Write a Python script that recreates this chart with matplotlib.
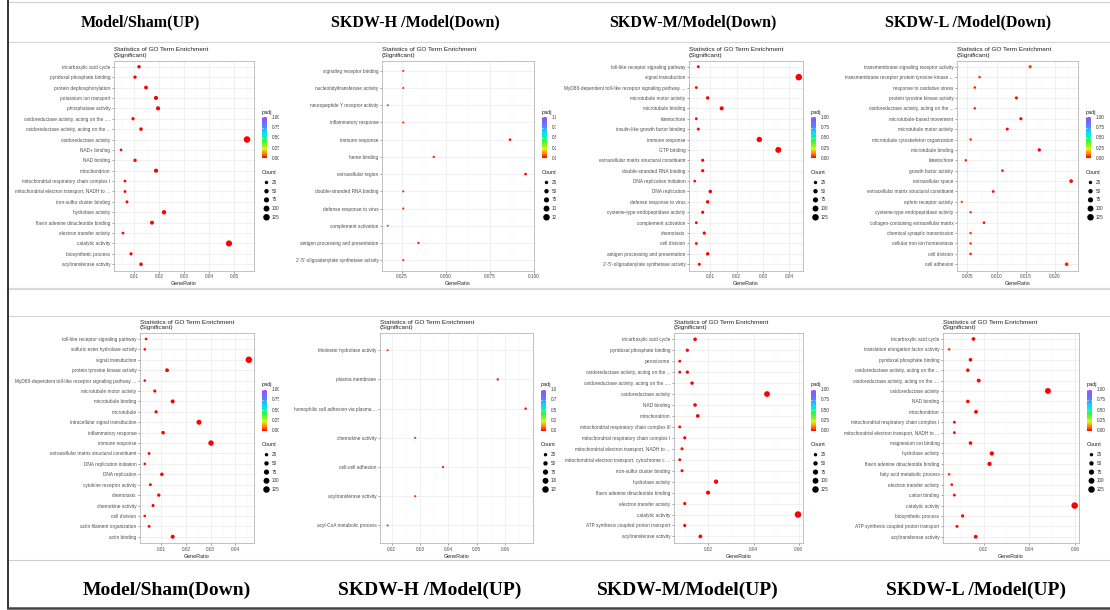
import matplotlib.pyplot as plt
import numpy as np
from matplotlib.colors import LinearSegmentedColormap

plt.rcParams['font.family'] = ['Liberation Sans', 'DejaVu Sans']

W, H = 1110, 610

# group titles
top_titles = ["Model/Sham(UP)", "SKDW-H /Model(Down)", "SKDW-M/Model(Down)", "SKDW-L /Model(Down)"]
bottom_titles = ["Model/Sham(Down)", "SKDW-H /Model(UP)", "SKDW-M/Model(UP)", "SKDW-L /Model(UP)"]

count_breaks = [25, 50, 75, 100, 125]
padj_breaks = ["1.00", "0.75", "0.50", "0.25", "0.00"]

# Model/Sham(UP)
A_terms = ["tricarboxylic acid cycle", "pyridoxal phosphate binding", "protein dephosphorylation",
           "potassium ion transport", "phosphatase activity", "oxidoreductase activity, acting on the ....",
           "oxidoreductase activity, acting on the ...", "oxidoreductase activity", "NAD+ binding",
           "NAD binding", "mitochondrion", "mitochondrial respiratory chain complex I",
           "mitochondrial electron transport, NADH to ...", "iron-sulfur cluster binding",
           "hydrolase activity", "flavin adenine dinucleotide binding", "electron transfer activity",
           "catalytic activity", "biosynthetic process", "acyltransferase activity"]
A_ratio = [0.0120, 0.0104, 0.0148, 0.0188, 0.0196, 0.0096, 0.0128, 0.0552, 0.0048, 0.0104,
           0.0188, 0.0064, 0.0064, 0.0072, 0.0220, 0.0172, 0.0056, 0.0480, 0.0088, 0.0128]
A_count = [27, 24, 34, 43, 44, 22, 29, 125, 11, 24, 43, 14, 14, 16, 50, 39, 13, 109, 20, 29]
A_padj = [0.001, 0.002, 0.001, 0.001, 0.0, 0.003, 0.002, 0.0, 0.008, 0.002,
          0.0, 0.004, 0.004, 0.003, 0.0, 0.001, 0.006, 0.0, 0.003, 0.002]

# SKDW-H /Model(Down)
B_terms = ["signaling receptor binding", "nucleotidyltransferase activity", "neuropeptide Y receptor activity",
           "inflammatory response", "immune response", "heme binding", "extracellular region",
           "double-stranded RNA binding", "defense response to virus", "complement activation",
           "antigen processing and presentation", "2'-5'-oligoadenylate synthetase activity"]
B_ratio = [0.0257, 0.0257, 0.0169, 0.0257, 0.0865, 0.0431, 0.0954, 0.0257, 0.0257, 0.0169, 0.0343, 0.0257]
B_count = [3, 3, 2, 3, 10, 5, 11, 3, 3, 2, 4, 3]
B_padj = [0.045, 0.045, 0.06, 0.045, 0.004, 0.03, 0.002, 0.04, 0.04, 0.06, 0.02, 0.04]

# SKDW-M/Model(Down)
C_terms = ["toll-like receptor signaling pathway", "signal transduction",
           "MyD88-dependent toll-like receptor signaling pathway ...", "microtubule motor activity",
           "microtubule binding", "kinetochore", "insulin-like growth factor binding", "immune response",
           "GTP binding", "extracellular matrix structural constituent", "double-stranded RNA binding",
           "DNA replication initiation", "DNA replication", "defense response to virus",
           "cysteine-type endopeptidase activity", "complement activation", "chemotaxis", "cell division",
           "antigen processing and presentation", "2'-5'-oligoadenylate synthetase activity"]
C_ratio = [0.00534, 0.0437, 0.00458, 0.00893, 0.01427, 0.00458, 0.00534, 0.02863, 0.03588, 0.00702,
           0.00702, 0.00397, 0.00992, 0.00893, 0.00702, 0.00458, 0.00763, 0.00458, 0.00893, 0.00573]
C_count = [15, 125, 13, 26, 41, 13, 15, 82, 103, 20, 20, 11, 28, 26, 20, 13, 22, 13, 26, 16]
C_padj = [0.004, 0.0, 0.005, 0.002, 0.001, 0.005, 0.004, 0.0, 0.0, 0.003,
          0.003, 0.006, 0.002, 0.002, 0.003, 0.005, 0.003, 0.005, 0.002, 0.004]

# SKDW-L /Model(Down)
D_terms = ["transmembrane signaling receptor activity", "transmembrane receptor protein tyrosine kinase ...",
           "response to oxidative stress", "protein tyrosine kinase activity",
           "oxidoreductase activity, acting on the ...", "microtubule-based movement",
           "microtubule motor activity", "microtubule cytoskeleton organization", "microtubule binding",
           "kinetochore", "growth factor activity", "extracellular space",
           "extracellular matrix structural constituent", "ephrin receptor activity",
           "cysteine-type endopeptidase activity", "collagen-containing extracellular matrix",
           "chemical synaptic transmission", "cellular iron ion homeostasis", "cell division", "cell adhesion"]
D_ratio = [0.01577, 0.00708, 0.00626, 0.01341, 0.00626, 0.01418, 0.01184, 0.00554, 0.01734, 0.00472,
           0.01102, 0.02282, 0.00943, 0.00402, 0.00554, 0.00784, 0.00554, 0.00554, 0.00554, 0.02205]
D_count = [22, 10, 9, 19, 9, 20, 17, 8, 24, 7, 15, 32, 13, 6, 8, 11, 8, 8, 8, 31]
D_padj = [0.05, 0.05, 0.025, 0.01, 0.03, 0.005, 0.005, 0.05, 0.003, 0.02,
          0.045, 0.005, 0.01, 0.06, 0.045, 0.015, 0.05, 0.05, 0.02, 0.03]

# Model/Sham(Down)
E_terms = ["toll-like receptor signaling pathway", "sulfuric ester hydrolase activity", "signal transduction",
           "protein tyrosine kinase activity", "MyD88-dependent toll-like receptor signaling pathway ...",
           "microtubule motor activity", "microtubule binding", "microtubule",
           "intracellular signal transduction", "inflammatory response", "immune response",
           "extracellular matrix structural constituent", "DNA replication initiation", "DNA replication",
           "cytokine receptor activity", "chemotaxis", "chemokine activity", "cell division",
           "actin filament organization", "actin binding"]
E_ratio = [0.00377, 0.00324, 0.0456, 0.0123, 0.00324, 0.00731, 0.0146, 0.00784, 0.0253, 0.0107,
           0.0302, 0.0050, 0.00324, 0.0102, 0.00552, 0.00894, 0.00662, 0.00324, 0.0050, 0.0146]
E_count = [10, 9, 125, 34, 9, 20, 40, 21, 69, 29, 83, 14, 9, 28, 15, 24, 18, 9, 14, 40]
E_padj = [0.004, 0.006, 0.0, 0.001, 0.006, 0.002, 0.001, 0.002, 0.0, 0.001,
          0.0, 0.003, 0.006, 0.001, 0.003, 0.002, 0.002, 0.006, 0.003, 0.001]

# SKDW-H /Model(UP)
F_terms = ["thiolester hydrolase activity", "plasma membrane", "homophilic cell adhesion via plasma ...",
           "chemokine activity", "cell-cell adhesion", "acyltransferase activity", "acyl-CoA metabolic process"]
F_ratio = [0.0186, 0.0574, 0.0672, 0.0283, 0.0381, 0.0283, 0.0186]
F_count = [2, 6, 7, 3, 4, 3, 2]
F_padj = [0.05, 0.02, 0.01, 0.045, 0.02, 0.045, 0.05]

# SKDW-M/Model(UP)  (two terms share the truncated label on row 4)
G_terms = ["tricarboxylic acid cycle", "pyridoxal phosphate binding", "peroxisome",
           "oxidoreductase activity, acting on the ...", "oxidoreductase activity, acting on the ....",
           "oxidoreductase activity", "NAD binding", "mitochondrion",
           "mitochondrial respiratory chain complex III", "mitochondrial respiratory chain complex I",
           "mitochondrial electron transport, NADH to ...", "mitochondrial electron transport, cytochrome c ...",
           "iron-sulfur cluster binding", "hydrolase activity", "flavin adenine dinucleotide binding",
           "electron transfer activity", "catalytic activity", "ATP synthesis coupled proton transport",
           "acyltransferase activity"]
G_rows = [0, 1, 2, 3, 3, 4, 5, 6, 7, 8, 9, 10, 11, 12, 13, 14, 15, 16, 17, 18]
G_ratio = [0.01412, 0.01071, 0.00735, 0.00735, 0.01071, 0.01279, 0.04597, 0.01412, 0.01531, 0.00735,
           0.00956, 0.00836, 0.00735, 0.00836, 0.02341, 0.01987, 0.00956, 0.05969, 0.00956, 0.01646]
G_count = [30, 22, 15, 15, 22, 27, 96, 30, 32, 15, 20, 18, 15, 18, 49, 42, 20, 125, 20, 34]
G_padj = [0.001, 0.002, 0.005, 0.005, 0.002, 0.002, 0.0, 0.001, 0.001, 0.005,
          0.003, 0.004, 0.005, 0.004, 0.0, 0.0, 0.003, 0.0, 0.003, 0.001]

# SKDW-L /Model(UP)
H_terms = ["tricarboxylic acid cycle", "translation elongation factor activity", "pyridoxal phosphate binding",
           "oxidoreductase activity, acting on the ...", "oxidoreductase activity, acting on the ....",
           "oxidoreductase activity", "NAD binding", "mitochondrion",
           "mitochondrial respiratory chain complex I", "mitochondrial electron transport, NADH to ...",
           "magnesium ion binding", "hydrolase activity", "flavin adenine dinucleotide binding",
           "fatty acid metabolic process", "electron transfer activity", "cation binding",
           "catalytic activity", "biosynthetic process", "ATP synthesis coupled proton transport",
           "acyltransferase activity"]
H_ratio = [0.01555, 0.00488, 0.01425, 0.01309, 0.01784, 0.0482, 0.01309, 0.01667, 0.00717, 0.00717,
           0.01425, 0.02359, 0.02259, 0.00488, 0.00605, 0.00717, 0.0599, 0.0108, 0.00834, 0.01654]
H_count = [32, 10, 30, 27, 37, 101, 27, 35, 15, 15, 30, 49, 47, 10, 13, 15, 125, 23, 17, 35]
H_padj = [0.002, 0.05, 0.003, 0.003, 0.001, 0.0, 0.003, 0.001, 0.01, 0.01,
          0.004, 0.0, 0.0, 0.05, 0.02, 0.01, 0.0, 0.005, 0.008, 0.002]

# axis limits and ticks of each panel
A_x = (0.0020, 0.0580, [0.01, 0.02, 0.03, 0.04, 0.05], ["0.01", "0.02", "0.03", "0.04", "0.05"])
B_x = (0.0136, 0.1002, [0.025, 0.05, 0.075, 0.1], ["0.025", "0.050", "0.075", "0.100"])
C_x = (0.0018, 0.0453, [0.01, 0.02, 0.03, 0.04], ["0.01", "0.02", "0.03", "0.04"])
D_x = (0.0032, 0.0240, [0.005, 0.01, 0.015, 0.02], ["0.005", "0.010", "0.015", "0.020"])
E_x = (0.0013, 0.0477, [0.01, 0.02, 0.03, 0.04], ["0.01", "0.02", "0.03", "0.04"])
F_x = (0.0159, 0.0698, [0.02, 0.03, 0.04, 0.05, 0.06], ["0.02", "0.03", "0.04", "0.05", "0.06"])
G_x = (0.0048, 0.0619, [0.02, 0.04, 0.06], ["0.02", "0.04", "0.06"])
H_x = (0.0022, 0.0618, [0.02, 0.04, 0.06], ["0.02", "0.04", "0.06"])

# pixel boxes: left, right, top, bottom, right edge of the panel image
layout = {
    "A": (114, 254, 60.5, 270.5, 279), "B": (382, 534, 60.5, 270.5, 556),
    "C": (689, 803, 60.5, 270.5, 830), "D": (957, 1078, 60.5, 270.5, 1110),
    "E": (140, 254, 332.7, 543, 279), "F": (380, 533, 332.7, 543, 556),
    "G": (674, 803, 332.7, 543, 830), "H": (943, 1079, 332.7, 543, 1110),
}

cmap = LinearSegmentedColormap.from_list("padj", [
    (0.0, "#FF0000"), (0.1, "#FF8000"), (0.22, "#E8F000"), (0.4, "#30FF30"),
    (0.6, "#00E5FF"), (0.8, "#5B7CFF"), (1.0, "#9B4DFF")])

fig = plt.figure(figsize=(W / 100, H / 100), dpi=100)

# background layer in pixel coordinates
bg = fig.add_axes([0, 0, 1, 1])
bg.set_xlim(0, W)
bg.set_ylim(H, 0)
bg.axis("off")
for yy, col, lw in [(1.5, "#CFCFCF", 0.8), (42, "#D5D5D5", 0.8), (288.5, "#D8D8D8", 1.6),
                    (316, "#D5D5D5", 0.8), (560, "#D0D0D0", 0.8)]:
    bg.plot([8, W], [yy, yy], color=col, lw=lw)
bg.plot([8, 8], [0, 608], color="#333333", lw=1.4)
bg.plot([8, W], [608, 608], color="#444444", lw=1.8)

for t, cx in zip(top_titles, [140, 415, 693, 968]):
    bg.text(cx, 22, t, ha="center", va="center", fontsize=11.5, fontweight="bold",
            family=["Liberation Serif", "DejaVu Serif"])
for t, cx in zip(bottom_titles, [167, 430, 688, 976]):
    bg.text(cx, 590, t, ha="center", va="center", fontsize=14, fontweight="bold",
            family=["Liberation Serif", "DejaVu Serif"])


def add_box(l, t, r, b):
    return fig.add_axes([l / W, 1 - b / H, (r - l) / W, (b - t) / H])


def size(c):
    return 0.16 * np.asarray(c, dtype=float) + 2


def draw_panel(labels, ratio, count, padj, rows, box, xinfo):
    left, right, top, bottom, edge = box
    x0, x1, xt, xtl = xinfo
    n = len(labels)
    ax = add_box(left, top, right, bottom)
    y = [n - 1 - r for r in rows]
    ax.scatter(ratio, y, s=size(count), c=padj, cmap=cmap, vmin=0, vmax=1, linewidths=0, zorder=3)
    ax.set_xlim(x0, x1)
    ax.set_ylim(-0.6, n - 0.4)
    ax.set_xticks(xt)
    ax.set_xticklabels(xtl)
    step = xt[1] - xt[0]
    minor = [v + step / 2 for v in [xt[0] - step] + list(xt)]
    ax.set_xticks([m for m in minor if x0 < m < x1], minor=True)
    ax.set_yticks(range(n))
    ax.set_yticklabels(labels[::-1])
    ax.grid(True, which="major", color="#EBEBEB", lw=0.5)
    ax.grid(True, which="minor", axis="x", color="#F5F5F5", lw=0.35)
    ax.set_axisbelow(True)
    for sp in ax.spines.values():
        sp.set_color("#B8B8B8")
        sp.set_linewidth(0.6)
    ax.tick_params(which="major", labelsize=3.4, length=1.6, width=0.4, color="#555555",
                   labelcolor="#4D4D4D", pad=1)
    ax.tick_params(which="minor", length=0)
    ax.set_xlabel("GeneRatio", fontsize=3.9, labelpad=1.5, color="#222222")
    ax.text(0, 1.012, "Statistics of GO Term Enrichment\n(Significant)", transform=ax.transAxes,
            ha="left", va="bottom", fontsize=4.6, color="#222222", linespacing=1.15)

    # legends
    lax = add_box(right + 4, top + 40, edge, top + 170)
    cx0, cx1, cy0, cy1 = right + 8, right + 13, top + 57, top + 98
    grad = np.linspace(1, 0, 200)[:, None]
    lax.imshow(grad, extent=(cx0, cx1, cy1, cy0), cmap=cmap, vmin=0, vmax=1, aspect="auto",
               origin="upper", interpolation="bilinear")
    lax.set_xlim(right + 4, edge)
    lax.set_ylim(top + 170, top + 40)
    lax.axis("off")
    lax.text(cx0, top + 52, "padj", fontsize=4, va="center", ha="left", color="#222222", clip_on=True)
    for k, lab in enumerate(padj_breaks):
        yy = cy0 + k * (cy1 - cy0) / 4
        lax.text(right + 18, yy, lab, fontsize=3.3, va="center", ha="left", color="#333333", clip_on=True)
        lax.plot([cx0, cx0 + 1], [yy, yy], color="white", lw=0.4)
        lax.plot([cx1 - 1, cx1], [yy, yy], color="white", lw=0.4)
    lax.text(cx0, top + 112, "Count", fontsize=4, va="center", ha="left", color="#222222", clip_on=True)
    ys = [top + 122 + k * 8.7 for k in range(5)]
    lax.scatter([right + 12.5] * 5, ys, s=size(count_breaks), c="black", linewidths=0, clip_on=True)
    for yy, c in zip(ys, count_breaks):
        lax.text(right + 18, yy, str(c), fontsize=3.3, va="center", ha="left", color="#333333", clip_on=True)


draw_panel(A_terms, A_ratio, A_count, A_padj, list(range(len(A_terms))), layout["A"], A_x)
draw_panel(B_terms, B_ratio, B_count, B_padj, list(range(len(B_terms))), layout["B"], B_x)
draw_panel(C_terms, C_ratio, C_count, C_padj, list(range(len(C_terms))), layout["C"], C_x)
draw_panel(D_terms, D_ratio, D_count, D_padj, list(range(len(D_terms))), layout["D"], D_x)
draw_panel(E_terms, E_ratio, E_count, E_padj, list(range(len(E_terms))), layout["E"], E_x)
draw_panel(F_terms, F_ratio, F_count, F_padj, list(range(len(F_terms))), layout["F"], F_x)
draw_panel(G_terms, G_ratio, G_count, G_padj, G_rows, layout["G"], G_x)
draw_panel(H_terms, H_ratio, H_count, H_padj, list(range(len(H_terms))), layout["H"], H_x)

fig.savefig("out.png", dpi=100)
